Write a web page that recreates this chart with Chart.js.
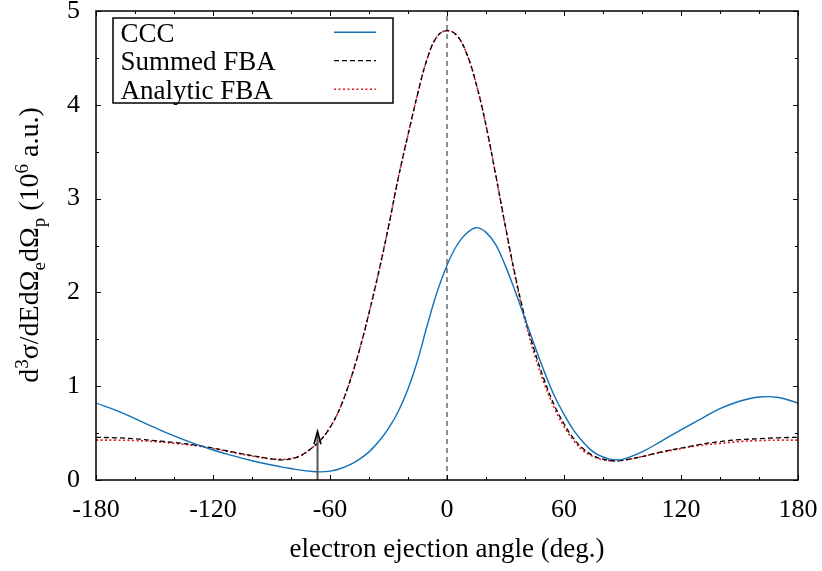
<!DOCTYPE html>
<html>
<head>
<meta charset="utf-8">
<script src="https://cdn.jsdelivr.net/npm/chart.js@4.4.1/dist/chart.umd.min.js"></script>
<style>
  html, body { margin: 0; padding: 0; background: #fff; }
</style>
</head>
<body>
<canvas id="crossChart" width="822" height="571"></canvas>
<script>
// electron ejection angle (deg.)
const angles = [-180, -170, -160, -150, -140, -130, -120, -110, -100, -90,
  -85, -80, -75, -70, -65, -60, -55, -50, -45, -40, -35, -30, -25, -20, -15, -10, -5,
  0, 5, 10, 15, 20, 25, 30, 35, 40, 45, 50, 55, 60, 65, 70, 75, 80, 85,
  90, 100, 110, 120, 130, 140, 150, 160, 170, 180];

// cross sections, 10^6 a.u.
const cccValues = [0.82, 0.745, 0.655, 0.56, 0.47, 0.39, 0.32, 0.26, 0.205, 0.16,
  0.14, 0.122, 0.105, 0.093, 0.087, 0.095, 0.12, 0.16, 0.22, 0.30, 0.41, 0.55, 0.73, 0.97, 1.28, 1.66, 2.01,
  2.29, 2.50, 2.63, 2.69, 2.64, 2.51, 2.28, 2.01, 1.72, 1.43, 1.15, 0.90, 0.70, 0.53, 0.40, 0.30, 0.245, 0.217,
  0.22, 0.30, 0.415, 0.535, 0.65, 0.76, 0.84, 0.885, 0.88, 0.82];

const summedFba = [0.455, 0.45, 0.44, 0.42, 0.40, 0.375, 0.34, 0.30, 0.26, 0.225,
  0.215, 0.225, 0.26, 0.33, 0.42, 0.56, 0.76, 1.04, 1.38, 1.78, 2.22, 2.70, 3.22, 3.68, 4.12, 4.50, 4.73,
  4.79, 4.74, 4.55, 4.22, 3.78, 3.25, 2.70, 2.18, 1.73, 1.37, 1.06, 0.80, 0.60, 0.44, 0.33, 0.26, 0.222, 0.205,
  0.21, 0.25, 0.30, 0.34, 0.38, 0.41, 0.43, 0.44, 0.45, 0.455];

const analyticFba = [0.425, 0.425, 0.42, 0.41, 0.39, 0.37, 0.335, 0.295, 0.255, 0.225,
  0.22, 0.23, 0.26, 0.33, 0.42, 0.56, 0.76, 1.04, 1.38, 1.78, 2.22, 2.70, 3.22, 3.68, 4.12, 4.50, 4.73,
  4.79, 4.74, 4.55, 4.22, 3.78, 3.25, 2.69, 2.16, 1.70, 1.33, 1.02, 0.77, 0.57, 0.42, 0.31, 0.25, 0.215, 0.205,
  0.21, 0.25, 0.295, 0.335, 0.37, 0.39, 0.41, 0.42, 0.425, 0.425];

const seriesLabels = ['CCC', 'Summed FBA', 'Analytic FBA'];

// dashed line at 0 deg and the arrow
const zeroLineX = [0, 0];
const zeroLineY = [0, 5];
const arrowX = -66.4;
const arrowY = [0, 0.52];

const FONT = '"Liberation Serif", "Times New Roman", serif';

const toPoints = (xs, ys) => xs.map((x, i) => ({ x: x, y: ys[i] }));

// inward ticks on all four sides + frame
const frameTicks = {
  id: 'frameTicks',
  afterDraw(chart) {
    const { ctx, chartArea: a, scales: { x, y } } = chart;
    ctx.save();
    ctx.strokeStyle = '#000';
    ctx.lineWidth = 1;
    ctx.beginPath();
    for (let v = x.min; v <= x.max; v += 20) {
      const px = Math.round(x.getPixelForValue(v)) + 0.5;
      const len = v % 60 === 0 ? 5 : 3;
      ctx.moveTo(px, a.bottom); ctx.lineTo(px, a.bottom - len);
      ctx.moveTo(px, a.top); ctx.lineTo(px, a.top + len);
    }
    for (let v = y.min; v <= y.max; v += 0.5) {
      const py = Math.round(y.getPixelForValue(v)) + 0.5;
      const len = v % 1 === 0 ? 5 : 3;
      ctx.moveTo(a.left, py); ctx.lineTo(a.left + len, py);
      ctx.moveTo(a.right, py); ctx.lineTo(a.right - len, py);
    }
    ctx.stroke();
    ctx.lineWidth = 1.5;
    ctx.strokeRect(a.left, a.top, a.right - a.left, a.bottom - a.top);
    ctx.restore();
  }
};

// arrow marking the angle
const arrowMark = {
  id: 'arrowMark',
  afterDatasetsDraw(chart) {
    const { ctx, scales: { x, y } } = chart;
    const px = x.getPixelForValue(arrowX);
    const y0 = y.getPixelForValue(arrowY[0]);
    const y1 = y.getPixelForValue(arrowY[1]);
    ctx.save();
    ctx.strokeStyle = '#555';
    ctx.lineWidth = 2;
    ctx.beginPath();
    ctx.moveTo(px, y0); ctx.lineTo(px, y1 + 2);
    ctx.stroke();
    ctx.strokeStyle = '#000';
    ctx.lineWidth = 1.6;
    ctx.beginPath();
    ctx.moveTo(px - 3.5, y1 + 13); ctx.lineTo(px, y1); ctx.lineTo(px + 3.5, y1 + 13);
    ctx.stroke();
    ctx.restore();
  }
};

// key box in the upper left corner
const keyBox = {
  id: 'keyBox',
  afterDatasetsDraw(chart) {
    const { ctx } = chart;
    ctx.save();
    ctx.fillStyle = '#fff';
    ctx.fillRect(113, 18, 280, 85);
    ctx.strokeStyle = '#000';
    ctx.lineWidth = 1.5;
    ctx.strokeRect(113, 18, 280, 85);
    ctx.font = '27px ' + FONT;
    ctx.textBaseline = 'alphabetic';
    chart.data.datasets.slice(0, 3).forEach((ds, i) => {
      const base = 41.7 + i * 28.5;
      ctx.fillStyle = '#000';
      ctx.fillText(ds.label, 120.5, base);
      ctx.strokeStyle = ds.borderColor;
      ctx.lineWidth = ds.borderWidth;
      ctx.setLineDash(ds.borderDash || []);
      ctx.beginPath();
      ctx.moveTo(334, base - 9.5); ctx.lineTo(376, base - 9.5);
      ctx.stroke();
    });
    ctx.restore();
  }
};

// rotated y title with super/subscripts
const yTitle = {
  id: 'yTitle',
  afterDraw(chart) {
    const { ctx } = chart;
    const parts = [
      ['d', 0], ['3', -1], ['\u03c3/dEd\u03a9', 0], ['e', 1], ['d\u03a9', 0], ['p', 1],
      [' (10', 0], ['6', -1], [' a.u.)', 0]
    ];
    const big = '28px ' + FONT;
    const small = '19px ' + FONT;
    ctx.save();
    let total = 0;
    parts.forEach(p => {
      ctx.font = p[1] === 0 ? big : small;
      total += ctx.measureText(p[0]).width;
    });
    ctx.translate(38, 245);
    ctx.rotate(-Math.PI / 2);
    ctx.fillStyle = '#000';
    ctx.textBaseline = 'alphabetic';
    let cx = -total / 2;
    parts.forEach(p => {
      ctx.font = p[1] === 0 ? big : small;
      const dy = p[1] === -1 ? -10 : (p[1] === 1 ? 7 : 0);
      ctx.fillText(p[0], cx, dy);
      cx += ctx.measureText(p[0]).width;
    });
    ctx.restore();
  }
};

const ctx = document.getElementById('crossChart').getContext('2d');

const crossChart = new Chart(ctx, {
  type: 'line',
  data: {
    datasets: [{
      label: seriesLabels[0],
      data: toPoints(angles, cccValues),
      borderColor: '#1070b8',
      borderWidth: 1.4,
      pointRadius: 0,
      tension: 0.4
    }, {
      label: seriesLabels[1],
      data: toPoints(angles, summedFba),
      borderColor: '#000',
      borderWidth: 1.3,
      borderDash: [5, 3],
      pointRadius: 0,
      tension: 0.4
    }, {
      label: seriesLabels[2],
      data: toPoints(angles, analyticFba),
      borderColor: '#e8141a',
      borderWidth: 1.6,
      borderDash: [2, 2.5],
      pointRadius: 0,
      tension: 0.4
    }, {
      label: 'zero',
      data: toPoints(zeroLineX, zeroLineY),
      borderColor: '#444',
      borderWidth: 1.2,
      borderDash: [5, 4],
      pointRadius: 0
    }]
  },
  options: {
    responsive: false,
    animation: false,
    layout: {
      padding: { top: 11, right: 24 }
    },
    plugins: {
      legend: { display: false },
      tooltip: { enabled: false }
    },
    scales: {
      x: {
        type: 'linear',
        min: -180,
        max: 180,
        afterFit: scale => {
          scale.height = 91;
          scale.paddingLeft = 0;
          scale.paddingRight = 0;
        },
        grid: { display: false, drawTicks: false },
        border: { display: false },
        ticks: {
          stepSize: 60,
          padding: 15,
          color: '#000',
          font: { family: FONT, size: 26 }
        },
        title: {
          display: true,
          text: 'electron ejection angle (deg.)',
          color: '#000',
          font: { family: FONT, size: 27 },
          padding: { top: 0, bottom: 5 }
        }
      },
      y: {
        min: 0,
        max: 5,
        afterFit: scale => {
          scale.width = 96;
          scale.paddingTop = 0;
          scale.paddingBottom = 0;
        },
        grid: { display: false, drawTicks: false },
        border: { display: false },
        ticks: {
          stepSize: 1,
          padding: 16,
          color: '#000',
          font: { family: FONT, size: 26 }
        }
      }
    }
  },
  plugins: [arrowMark, keyBox, frameTicks, yTitle]
});
</script>
</body>
</html>
